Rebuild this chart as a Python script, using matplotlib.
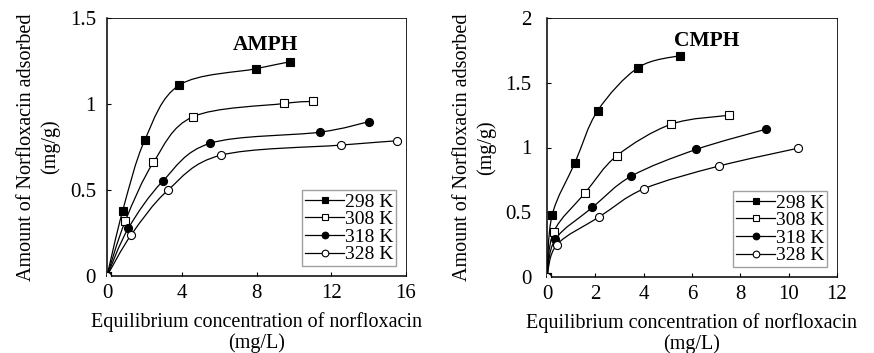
import numpy as np
import matplotlib
matplotlib.use("Agg")
import matplotlib.pyplot as plt
from matplotlib.path import Path
from matplotlib.patches import PathPatch
from matplotlib.lines import Line2D

plt.rcParams["font.family"] = ["Liberation Serif", "DejaVu Serif"]

temps = ["298 K", "308 K", "318 K", "328 K"]

# AMPH: equilibrium concentration (mg/L) and amount adsorbed (mg/g)
amph_x_298 = [0, 0.84, 2.02, 3.87, 7.96, 9.81]
amph_y_298 = [0, 0.38, 0.79, 1.11, 1.205, 1.246]
amph_x_308 = [0, 0.98, 2.48, 4.60, 9.49, 11.0]
amph_y_308 = [0, 0.32, 0.66, 0.926, 1.003, 1.015]
amph_x_318 = [0, 1.14, 2.98, 5.53, 11.38, 14.0]
amph_y_318 = [0, 0.277, 0.551, 0.772, 0.836, 0.897]
amph_x_328 = [0, 1.30, 3.26, 6.08, 12.5, 15.5]
amph_y_328 = [0, 0.24, 0.499, 0.702, 0.761, 0.786]

# CMPH
cmph_x_298 = [0, 0.21, 1.16, 2.10, 3.77, 5.50]
cmph_y_298 = [0, 0.476, 0.884, 1.285, 1.617, 1.71]
cmph_x_308 = [0, 0.28, 1.57, 2.90, 5.14, 7.54]
cmph_y_308 = [0, 0.35, 0.648, 0.938, 1.18, 1.249]
cmph_x_318 = [0, 0.34, 1.88, 3.49, 6.17, 9.05]
cmph_y_318 = [0, 0.29, 0.537, 0.779, 0.985, 1.141]
cmph_x_328 = [0, 0.41, 2.17, 4.01, 7.10, 10.4]
cmph_y_328 = [0, 0.25, 0.465, 0.681, 0.856, 0.995]

markers = [("s", "black"), ("s", "white"), ("o", "black"), ("o", "white")]


def smooth_path(x, y):
    # Excel-style smoothed line: cubic Bezier through the points
    pts = np.column_stack([x, y]).astype(float)
    n = len(pts)
    verts = [pts[0]]
    codes = [Path.MOVETO]
    for i in range(n - 1):
        p0 = pts[i - 1] if i > 0 else pts[i]
        p1 = pts[i]
        p2 = pts[i + 1]
        p3 = pts[i + 2] if i + 2 < n else pts[i + 1]
        c1 = p1 + (p2 - p0) / 6.0
        c2 = p2 - (p3 - p1) / 6.0
        verts += [c1, c2, p2]
        codes += [Path.CURVE4] * 3
    return Path(verts, codes)


def panel(ax, xs, ys, title, title_xy, xlim, xticks, ylim, yticks, ytl, ypad):
    for (x, y), (m, fc) in zip(zip(xs, ys), markers):
        ax.add_patch(PathPatch(smooth_path(x, y), fill=False, lw=0.9,
                               ec="black", zorder=2))
        ax.plot(x, y, ls="none", marker=m, ms=5.8, mfc=fc, mec="black",
                mew=0.8, zorder=3)
    ax.set_xlim(*xlim)
    ax.set_ylim(*ylim)
    ax.set_xticks(xticks)
    ax.set_yticks(yticks)
    ax.set_yticklabels(ytl)
    ax.tick_params(direction="in", length=3, labelsize=15, width=0.8)
    ax.tick_params(axis="x", pad=6)
    ax.tick_params(axis="y", pad=ypad)
    for s in ["left", "bottom"]:
        ax.spines[s].set_linewidth(1.1)
    for s in ["top", "right"]:
        ax.spines[s].set_linewidth(0.6)
    ax.text(title_xy[0], title_xy[1], title, fontsize=15.5, fontweight="bold",
            ha="center", va="center")
    ax.set_xlabel("Equilibrium concentration of norfloxacin\n(mg/L)",
                  fontsize=14.5, linespacing=1.1, labelpad=6)
    ax.set_ylabel("Amount of Norfloxacin adsorbed\n(mg/g)", fontsize=14.5,
                  linespacing=1.3, labelpad=7)
    handles = [Line2D([], [], color="black", lw=0.9, marker=m, ms=4.8,
                      mfc=fc, mec="black", mew=0.8) for m, fc in markers]
    leg = ax.legend(handles, temps, loc="lower right", fontsize=14,
                    frameon=True, fancybox=False, handlelength=2.0,
                    handletextpad=0.05, labelspacing=0.0, borderpad=0.15,
                    borderaxespad=0.5)
    leg.get_frame().set_edgecolor("#888888")
    leg.get_frame().set_linewidth(1.0)


fig = plt.figure(figsize=(8.74, 3.53), dpi=100)
ax1 = fig.add_axes([107 / 874, 1 - 276 / 353, 299 / 874, 258 / 353])
ax2 = fig.add_axes([547 / 874, 1 - 277 / 353, 290 / 874, 259 / 353])

panel(ax1,
      [amph_x_298, amph_x_308, amph_x_318, amph_x_328],
      [amph_y_298, amph_y_308, amph_y_318, amph_y_328],
      "AMPH", (8.47, 1.345), (0, 16), [0, 4, 8, 12, 16],
      (0, 1.5), [0, 0.5, 1, 1.5], ["0", "0.5", "1", "1.5"], 8)
panel(ax2,
      [cmph_x_298, cmph_x_308, cmph_x_318, cmph_x_328],
      [cmph_y_298, cmph_y_308, cmph_y_318, cmph_y_328],
      "CMPH", (6.6, 1.82), (0, 12), [0, 2, 4, 6, 8, 10, 12],
      (0, 2), [0, 0.5, 1, 1.5, 2], ["0", "0.5", "1", "1.5", "2"], 11)

fig.savefig("out.png", dpi=100)
